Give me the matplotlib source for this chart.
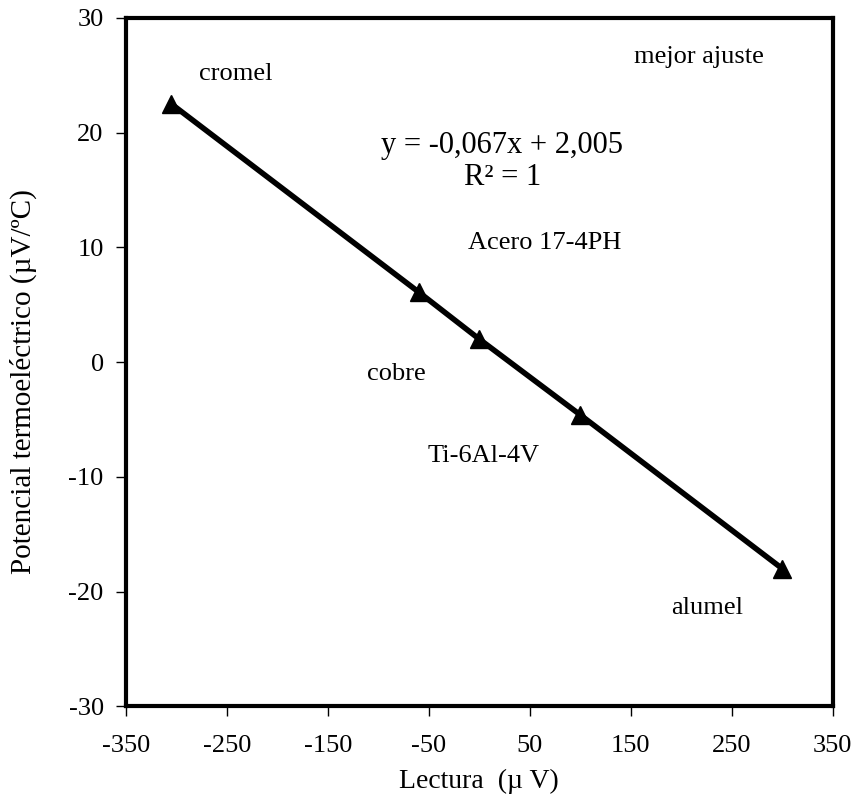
import numpy as np
import matplotlib.pyplot as plt

# lecturas (uV) y potencial termoelectrico (uV/C)
lectura = [-305, -60, 0, 100, 300]
potencial = [22.5, 6.1, 2.0, -4.6, -18.0]

xticks = [-350, -250, -150, -50, 50, 150, 250, 350]
yticks = [-30, -20, -10, 0, 10, 20, 30]

# etiquetas de los materiales
etiquetas = ["cromel", "cobre", "Ti-6Al-4V", "Acero 17-4PH", "alumel", "mejor ajuste"]
etiq_x = [-241, -82, 4, 65, 226, 218]
etiq_y = [25.1, -1.0, -8.2, 10.4, -21.4, 26.6]

plt.rcParams['font.family'] = ['Liberation Serif', 'DejaVu Serif']
plt.rcParams['axes.unicode_minus'] = False

fig = plt.figure(figsize=(8.62, 8.1), dpi=100)
ax = fig.add_axes([0.146, 0.128, 0.82, 0.85])

ax.plot(lectura, potencial, color='black', linewidth=4, solid_capstyle='butt')
ax.plot(lectura, potencial, linestyle='none', marker='^', markersize=13,
        color='black')

ax.set_xlim(-350, 350)
ax.set_ylim(-30, 30)
ax.set_xticks(xticks)
ax.set_yticks(yticks)
ax.tick_params(labelsize=19, direction='out', length=7, width=1, pad=14)
ax.tick_params(axis='y', pad=9)

for s in ax.spines.values():
    s.set_linewidth(3)

ax.set_xlabel("Lectura  (\u00b5 V)", fontsize=20, labelpad=8)
ax.set_ylabel("Potencial termoeléctrico (\u00b5V/ºC)", fontsize=21)
ax.yaxis.set_label_coords(-0.125, 0.472)

for t, x, y in zip(etiquetas, etiq_x, etiq_y):
    ax.text(x, y, t, fontsize=19, ha='center', va='center')

ax.text(23, 18.9, "y = -0,067x + 2,005", fontsize=22, ha='center', va='center')
ax.text(23, 16.1, "R² = 1", fontsize=22, ha='center', va='center')

plt.savefig("out.png")
